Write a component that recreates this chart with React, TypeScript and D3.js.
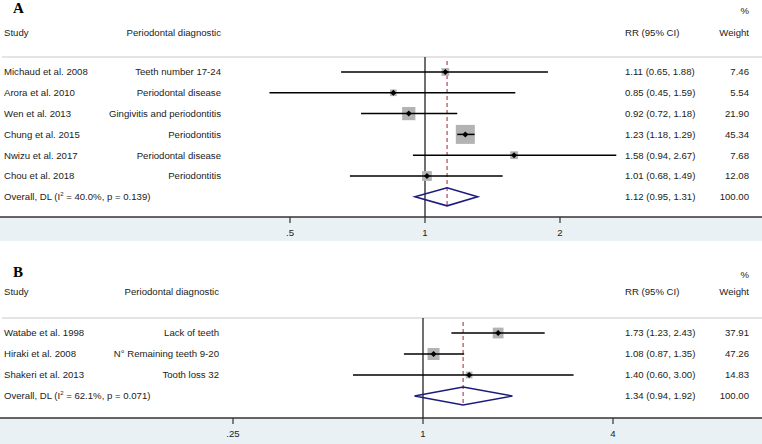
import React, { useEffect, useRef } from "react";
import * as d3 from "d3";

// panel A data
const studiesA = ["Michaud et al. 2008", "Arora et al. 2010", "Wen et al. 2013", "Chung et al. 2015", "Nwizu et al. 2017", "Chou et al. 2018"];
const diagA = ["Teeth number 17-24", "Periodontal disease", "Gingivitis and periodontitis", "Periodontitis", "Periodontal disease", "Periodontitis"];
const rrA = [1.11, 0.85, 0.92, 1.23, 1.58, 1.01];
const lowA = [0.65, 0.45, 0.72, 1.18, 0.94, 0.68];
const highA = [1.88, 1.59, 1.18, 1.29, 2.67, 1.49];
const weightA = [7.46, 5.54, 21.9, 45.34, 7.68, 12.08];
const overallA = { rr: 1.12, low: 0.95, high: 1.31, i2: "40.0%", p: "0.139" };
const ticksA = [0.5, 1, 2];
const tickLabelsA = [".5", "1", "2"];

// panel B data
const studiesB = ["Watabe et al. 1998", "Hiraki et al. 2008", "Shakeri et al. 2013"];
const diagB = ["Lack of teeth", "N° Remaining teeth 9-20", "Tooth loss 32"];
const rrB = [1.73, 1.08, 1.4];
const lowB = [1.23, 0.87, 0.6];
const highB = [2.43, 1.35, 3.0];
const weightB = [37.91, 47.26, 14.83];
const overallB = { rr: 1.34, low: 0.94, high: 1.92, i2: "62.1%", p: "0.071" };
const ticksB = [0.25, 1, 4];
const tickLabelsB = [".25", "1", "4"];

const FONT = "'Liberation Sans', Arial, sans-serif";

function drawPanel(svg: any, o: any) {
    const g = svg.append("g");
    const n = o.studies.length;
    const x = d3.scaleLog().base(2).domain(o.xDomain).range(o.xRange);
    const y = d3.scaleLinear().domain([0, n]).range([o.rowTop, o.rowTop + n * o.rowStep]);
    const maxW = d3.max(o.weights as number[]) as number;

    // panel letter
    g.append("text").attr("x", 13).attr("y", o.top + 13)
        .attr("font-family", "'Liberation Serif', 'Times New Roman', serif")
        .attr("font-weight", "bold").attr("font-size", 15).text(o.letter);

    const txt = (xx: number, yy: number, s: string, anchor = "start") =>
        g.append("text").attr("x", xx).attr("y", yy).attr("dy", "0.35em")
            .attr("font-family", FONT).attr("font-size", 9.6).attr("fill", "#222")
            .attr("text-anchor", anchor).text(s);

    txt(749, o.top + 11, "%", "end");
    txt(4, o.headY, "Study");
    txt(o.diagRight, o.headY, "Periodontal diagnostic", "end");
    txt(625, o.headY, "RR (95% CI)");
    txt(749, o.headY, "Weight", "end");

    g.append("line").attr("x1", 2).attr("x2", 762).attr("y1", o.lineY).attr("y2", o.lineY)
        .attr("stroke", "#c9c9c9").attr("stroke-width", 1);

    // band + axis
    g.append("rect").attr("x", 0).attr("y", o.axisY).attr("width", 762).attr("height", o.bandH)
        .attr("fill", "#e9f1f4");
    g.append("line").attr("x1", 0).attr("x2", 762).attr("y1", o.axisY).attr("y2", o.axisY)
        .attr("stroke", "#333").attr("stroke-width", 1.6);
    o.ticks.forEach((t: number, i: number) => {
        g.append("line").attr("x1", x(t)).attr("x2", x(t)).attr("y1", o.axisY).attr("y2", o.axisY + 6)
            .attr("stroke", "#333").attr("stroke-width", 1.2);
        txt(x(t), o.axisY + 16, o.tickLabels[i], "middle");
    });

    // null line
    g.append("line").attr("x1", x(1)).attr("x2", x(1)).attr("y1", o.lineY).attr("y2", o.axisY)
        .attr("stroke", "#222").attr("stroke-width", 1.3);

    const ov = o.overall;
    const yo = y(n);
    // overall dashed line
    g.append("line").attr("x1", x(ov.rr)).attr("x2", x(ov.rr)).attr("y1", o.lineY + 4).attr("y2", yo + 9)
        .attr("stroke", "#b04a55").attr("stroke-width", 1.2).attr("stroke-dasharray", "4,3");

    o.studies.forEach((s: string, i: number) => {
        const yy = y(i);
        txt(4, yy, s);
        txt(o.diagRight, yy, o.diag[i], "end");
        txt(625, yy, `${o.rr[i].toFixed(2)} (${o.low[i].toFixed(2)}, ${o.high[i].toFixed(2)})`);
        txt(749, yy, o.weights[i].toFixed(2), "end");
        const side = o.maxSq * Math.sqrt(o.weights[i] / maxW);
        g.append("rect").attr("x", x(o.rr[i]) - side / 2).attr("y", yy - side / 2)
            .attr("width", side).attr("height", side).attr("fill", "#b3b3b3");
        g.append("line").attr("x1", x(o.low[i])).attr("x2", x(o.high[i])).attr("y1", yy).attr("y2", yy)
            .attr("stroke", "#000").attr("stroke-width", 1.5);
        const cx = x(o.rr[i]);
        g.append("path").attr("d", `M${cx - 3},${yy} L${cx},${yy - 3} L${cx + 3},${yy} L${cx},${yy + 3} Z`)
            .attr("fill", "#000");
    });

    // overall row
    const ot = g.append("text").attr("x", 4).attr("y", yo).attr("dy", "0.35em")
        .attr("font-family", FONT).attr("font-size", 9.6).attr("fill", "#222");
    ot.append("tspan").text("Overall, DL (I");
    ot.append("tspan").attr("font-size", 6).attr("dy", "-0.7em").text("2");
    ot.append("tspan").attr("dy", "0.45em").text(` = ${ov.i2}, p = ${ov.p})`);
    txt(625, yo, `${ov.rr.toFixed(2)} (${ov.low.toFixed(2)}, ${ov.high.toFixed(2)})`);
    txt(749, yo, "100.00", "end");
    g.append("path")
        .attr("d", `M${x(ov.low)},${yo} L${x(ov.rr)},${yo - 9} L${x(ov.high)},${yo} L${x(ov.rr)},${yo + 9} Z`)
        .attr("fill", "none").attr("stroke", "#1c1c80").attr("stroke-width", 1.6);
}

export default function App() {
    const ref = useRef<SVGSVGElement>(null);
    useEffect(() => {
        const svg = d3.select(ref.current);
        svg.selectAll("*").remove();
        svg.append("rect").attr("width", 762).attr("height", 444).attr("fill", "#fff");
        drawPanel(svg, {
            letter: "A", top: 0, headY: 33, lineY: 57, rowTop: 72, rowStep: 20.8, axisY: 217, bandH: 24,
            diagRight: 221, studies: studiesA, diag: diagA, rr: rrA, low: lowA, high: highA, weights: weightA,
            overall: overallA, ticks: ticksA, tickLabels: tickLabelsA,
            xDomain: [0.5, 2], xRange: [290, 560], maxSq: 19,
        });
        drawPanel(svg, {
            letter: "B", top: 264, headY: 292, lineY: 318, rowTop: 333, rowStep: 21, axisY: 418, bandH: 26,
            diagRight: 219, studies: studiesB, diag: diagB, rr: rrB, low: lowB, high: highB, weights: weightB,
            overall: overallB, ticks: ticksB, tickLabels: tickLabelsB,
            xDomain: [0.25, 4], xRange: [233, 613], maxSq: 12,
        });
    }, []);
    return (
        <svg ref={ref} width={762} height={444}
            style={{ position: "absolute", left: 0, top: 0, display: "block" }} />
    );
}
